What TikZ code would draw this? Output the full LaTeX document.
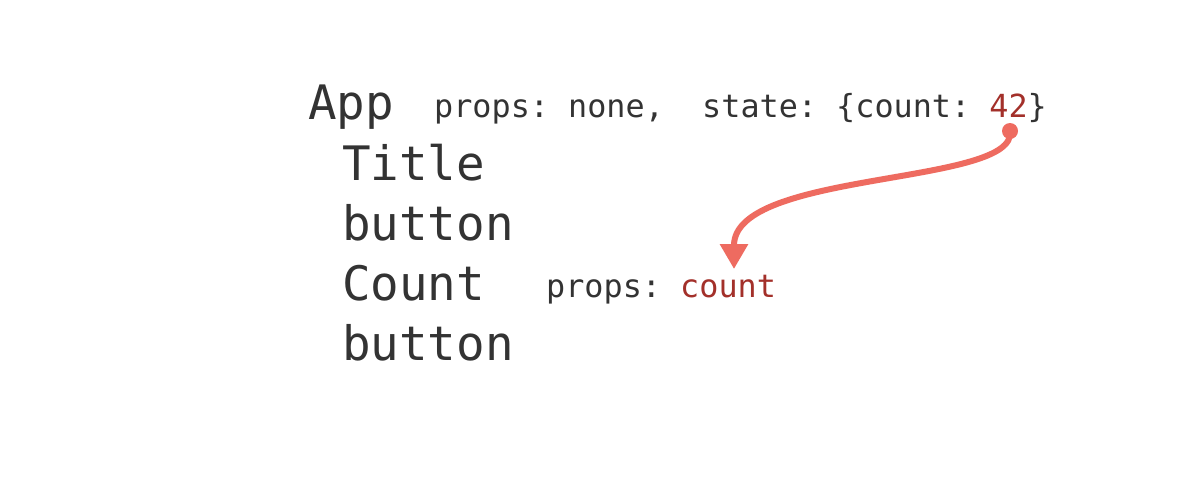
\documentclass[tikz,border=0pt]{standalone}
\usepackage{fontspec}
\setmonofont{DejaVu Sans Mono}
\usetikzlibrary{arrows.meta}
\definecolor{txtgray}{HTML}{333333}
\definecolor{valred}{HTML}{A3302A}
\definecolor{arrowred}{HTML}{EE6B60}
\begin{document}
\begin{tikzpicture}[x=1pt,y=-1pt,
  big/.style={anchor=base west,inner sep=0pt,text=txtgray,font=\ttfamily\fontsize{47.5}{47.5}\selectfont},
  small/.style={anchor=base west,inner sep=0pt,text=txtgray,font=\ttfamily\fontsize{31.8}{31.8}\selectfont},
  flow/.style={draw=arrowred,line width=6pt,-{Triangle[length=25pt,width=27pt]}}]
\useasboundingbox[fill=white] (0,0) rectangle (1194,482);
\node[big] (app) at (308,119) {App};
\node[small] (appinfo) at (434,117) {props: none,\ \ state: \{count: \textcolor{valred}{42}\}};
\node[big] (title) at (342,180) {Title};
\node[big] (btn1) at (342,240) {button};
\node[big] (count) at (342,300) {Count};
\node[small] (countinfo) at (546,297) {props: \textcolor{valred}{count}};
\node[big] (btn2) at (342,360) {button};
\coordinate (src) at (1010,131);
\coordinate (dst) at (734,269);
\fill[arrowred] (src) circle (8pt);
\draw[flow] (src) .. controls (1018,186) and (734,170) .. (dst);
\end{tikzpicture}
\end{document}
